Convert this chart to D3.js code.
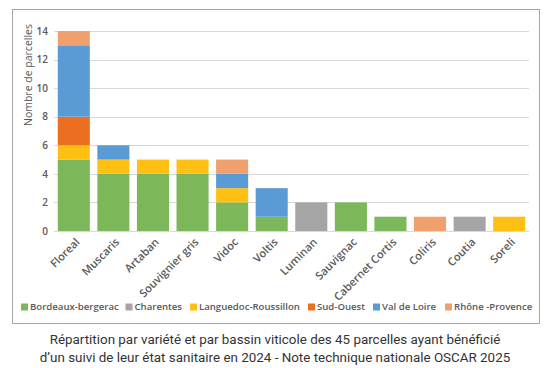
<!DOCTYPE html>
<html>
<head>
<meta charset="utf-8">
<script src="https://cdn.jsdelivr.net/npm/d3@7"></script>
<style>
  body { margin: 0; background: #fff; }
  svg { display: block; }
</style>
</head>
<body>
<script>
// données
var varietes = ["Floreal", "Muscaris", "Artaban", "Souvignier gris", "Vidoc", "Voltis",
  "Luminan", "Sauvignac", "Cabernet Cortis", "Coliris", "Coutia", "Soreli"];
var bassins = ["Bordeaux-bergerac", "Charentes", "Languedoc-Roussillon", "Sud-Ouest", "Val de Loire", "Rhône -Provence"];
var bordeaux = [5, 4, 4, 4, 2, 1, 0, 2, 1, 0, 0, 0];
var charentes = [0, 0, 0, 0, 0, 0, 2, 0, 0, 0, 1, 0];
var languedoc = [1, 1, 1, 1, 1, 0, 0, 0, 0, 0, 0, 1];
var sudOuest = [2, 0, 0, 0, 0, 0, 0, 0, 0, 0, 0, 0];
var valDeLoire = [5, 1, 0, 0, 1, 2, 0, 0, 0, 0, 0, 0];
var rhone = [1, 0, 0, 0, 1, 0, 0, 0, 0, 1, 0, 0];
var yTicks = [0, 2, 4, 6, 8, 10, 12, 14];

var couleurs = ["#7cb85a", "#a5a5a5", "#fdc013", "#ec6f1f", "#5b9bd5", "#f0a06c"];

// tableau pour d3.stack
var series = [bordeaux, charentes, languedoc, sudOuest, valDeLoire, rhone];
var table = varietes.map(function (v, i) {
  var row = { variete: v };
  bassins.forEach(function (b, j) { row[b] = series[j][i]; });
  return row;
});
var stacked = d3.stack().keys(bassins)(table);

var svg = d3.select("body").append("svg")
  .attr("width", 548)
  .attr("height", 368);

// cadre
svg.append("rect")
  .attr("x", 12.5).attr("y", 9.5)
  .attr("width", 527).attr("height", 314)
  .style("fill", "#fff")
  .style("stroke", "#a6a6a6")
  .style("stroke-width", 1);

var x = d3.scaleBand().domain(varietes).range([54, 529]).paddingInner(0.19).paddingOuter(0.095);
var y = d3.scaleLinear().domain([0, 14]).range([231, 31]);

// grille
svg.append("g")
  .selectAll("line")
  .data(yTicks)
  .join("line")
  .attr("x1", 54).attr("x2", 529)
  .attr("y1", function (d) { return Math.round(y(d)) + 0.5; })
  .attr("y2", function (d) { return Math.round(y(d)) + 0.5; })
  .style("stroke", "#d9d9d9")
  .style("stroke-width", 1);

// axe y
var yAxis = svg.append("g")
  .attr("transform", "translate(48,0)")
  .call(d3.axisLeft(y).tickValues(yTicks).tickSize(0).tickPadding(0));
yAxis.select(".domain").remove();
yAxis.selectAll("text")
  .style("font-family", "'Open Sans', sans-serif")
  .style("font-size", "10px")
  .style("font-weight", "600")
  .style("fill", "#595959");

svg.append("text")
  .attr("transform", "translate(28,24) rotate(-90)")
  .attr("text-anchor", "end")
  .attr("dy", "0.35em")
  .style("font-family", "'Open Sans', sans-serif")
  .style("font-size", "10.5px")
  .style("fill", "#595959")
  .text("Nombre de parcelles");

// barres empilées
svg.append("g")
  .selectAll("g")
  .data(stacked)
  .join("g")
  .style("fill", function (d, i) { return couleurs[i]; })
  .selectAll("rect")
  .data(function (d) { return d; })
  .join("rect")
  .attr("x", function (d) { return x(d.data.variete); })
  .attr("y", function (d) { return y(d[1]); })
  .attr("width", x.bandwidth())
  .attr("height", function (d) { return y(d[0]) - y(d[1]); });

// étiquettes x inclinées
svg.append("g")
  .selectAll("text")
  .data(varietes)
  .join("text")
  .attr("transform", function (d) {
    return "translate(" + (x(d) + x.bandwidth() / 2 + 4) + ",240) rotate(-45)";
  })
  .attr("text-anchor", "end")
  .attr("dy", "0.35em")
  .style("font-family", "'Open Sans', sans-serif")
  .style("font-size", "11px")
  .style("font-weight", "600")
  .style("fill", "#595959")
  .text(function (d) { return d; });

// légende
var legendX = [21, 125.5, 190, 308, 373, 445];
var legend = svg.append("g")
  .selectAll("g")
  .data(bassins)
  .join("g")
  .attr("transform", function (d, i) { return "translate(" + legendX[i] + ",307)"; });
legend.append("rect")
  .attr("x", 0).attr("y", -3.5)
  .attr("width", 7).attr("height", 7)
  .style("fill", function (d, i) { return couleurs[i]; });
legend.append("text")
  .attr("x", 9)
  .attr("dy", "0.35em")
  .style("font-family", "'Open Sans', sans-serif")
  .style("font-size", "9.6px")
  .style("font-weight", "600")
  .style("fill", "#595959")
  .text(function (d) { return d; });

// légende sous le cadre
var caption = [
  "Répartition par variété et par bassin viticole des 45 parcelles ayant bénéficié",
  "d’un suivi de leur état sanitaire en 2024 - Note technique nationale OSCAR 2025"
];
svg.append("g")
  .selectAll("text")
  .data(caption)
  .join("text")
  .attr("x", 275)
  .attr("y", function (d, i) { return 339 + i * 18; })
  .attr("text-anchor", "middle")
  .attr("dy", "0.35em")
  .style("font-family", "Roboto, sans-serif")
  .style("font-size", "13.4px")
  .style("fill", "#333")
  .text(function (d) { return d; });
</script>
</body>
</html>
